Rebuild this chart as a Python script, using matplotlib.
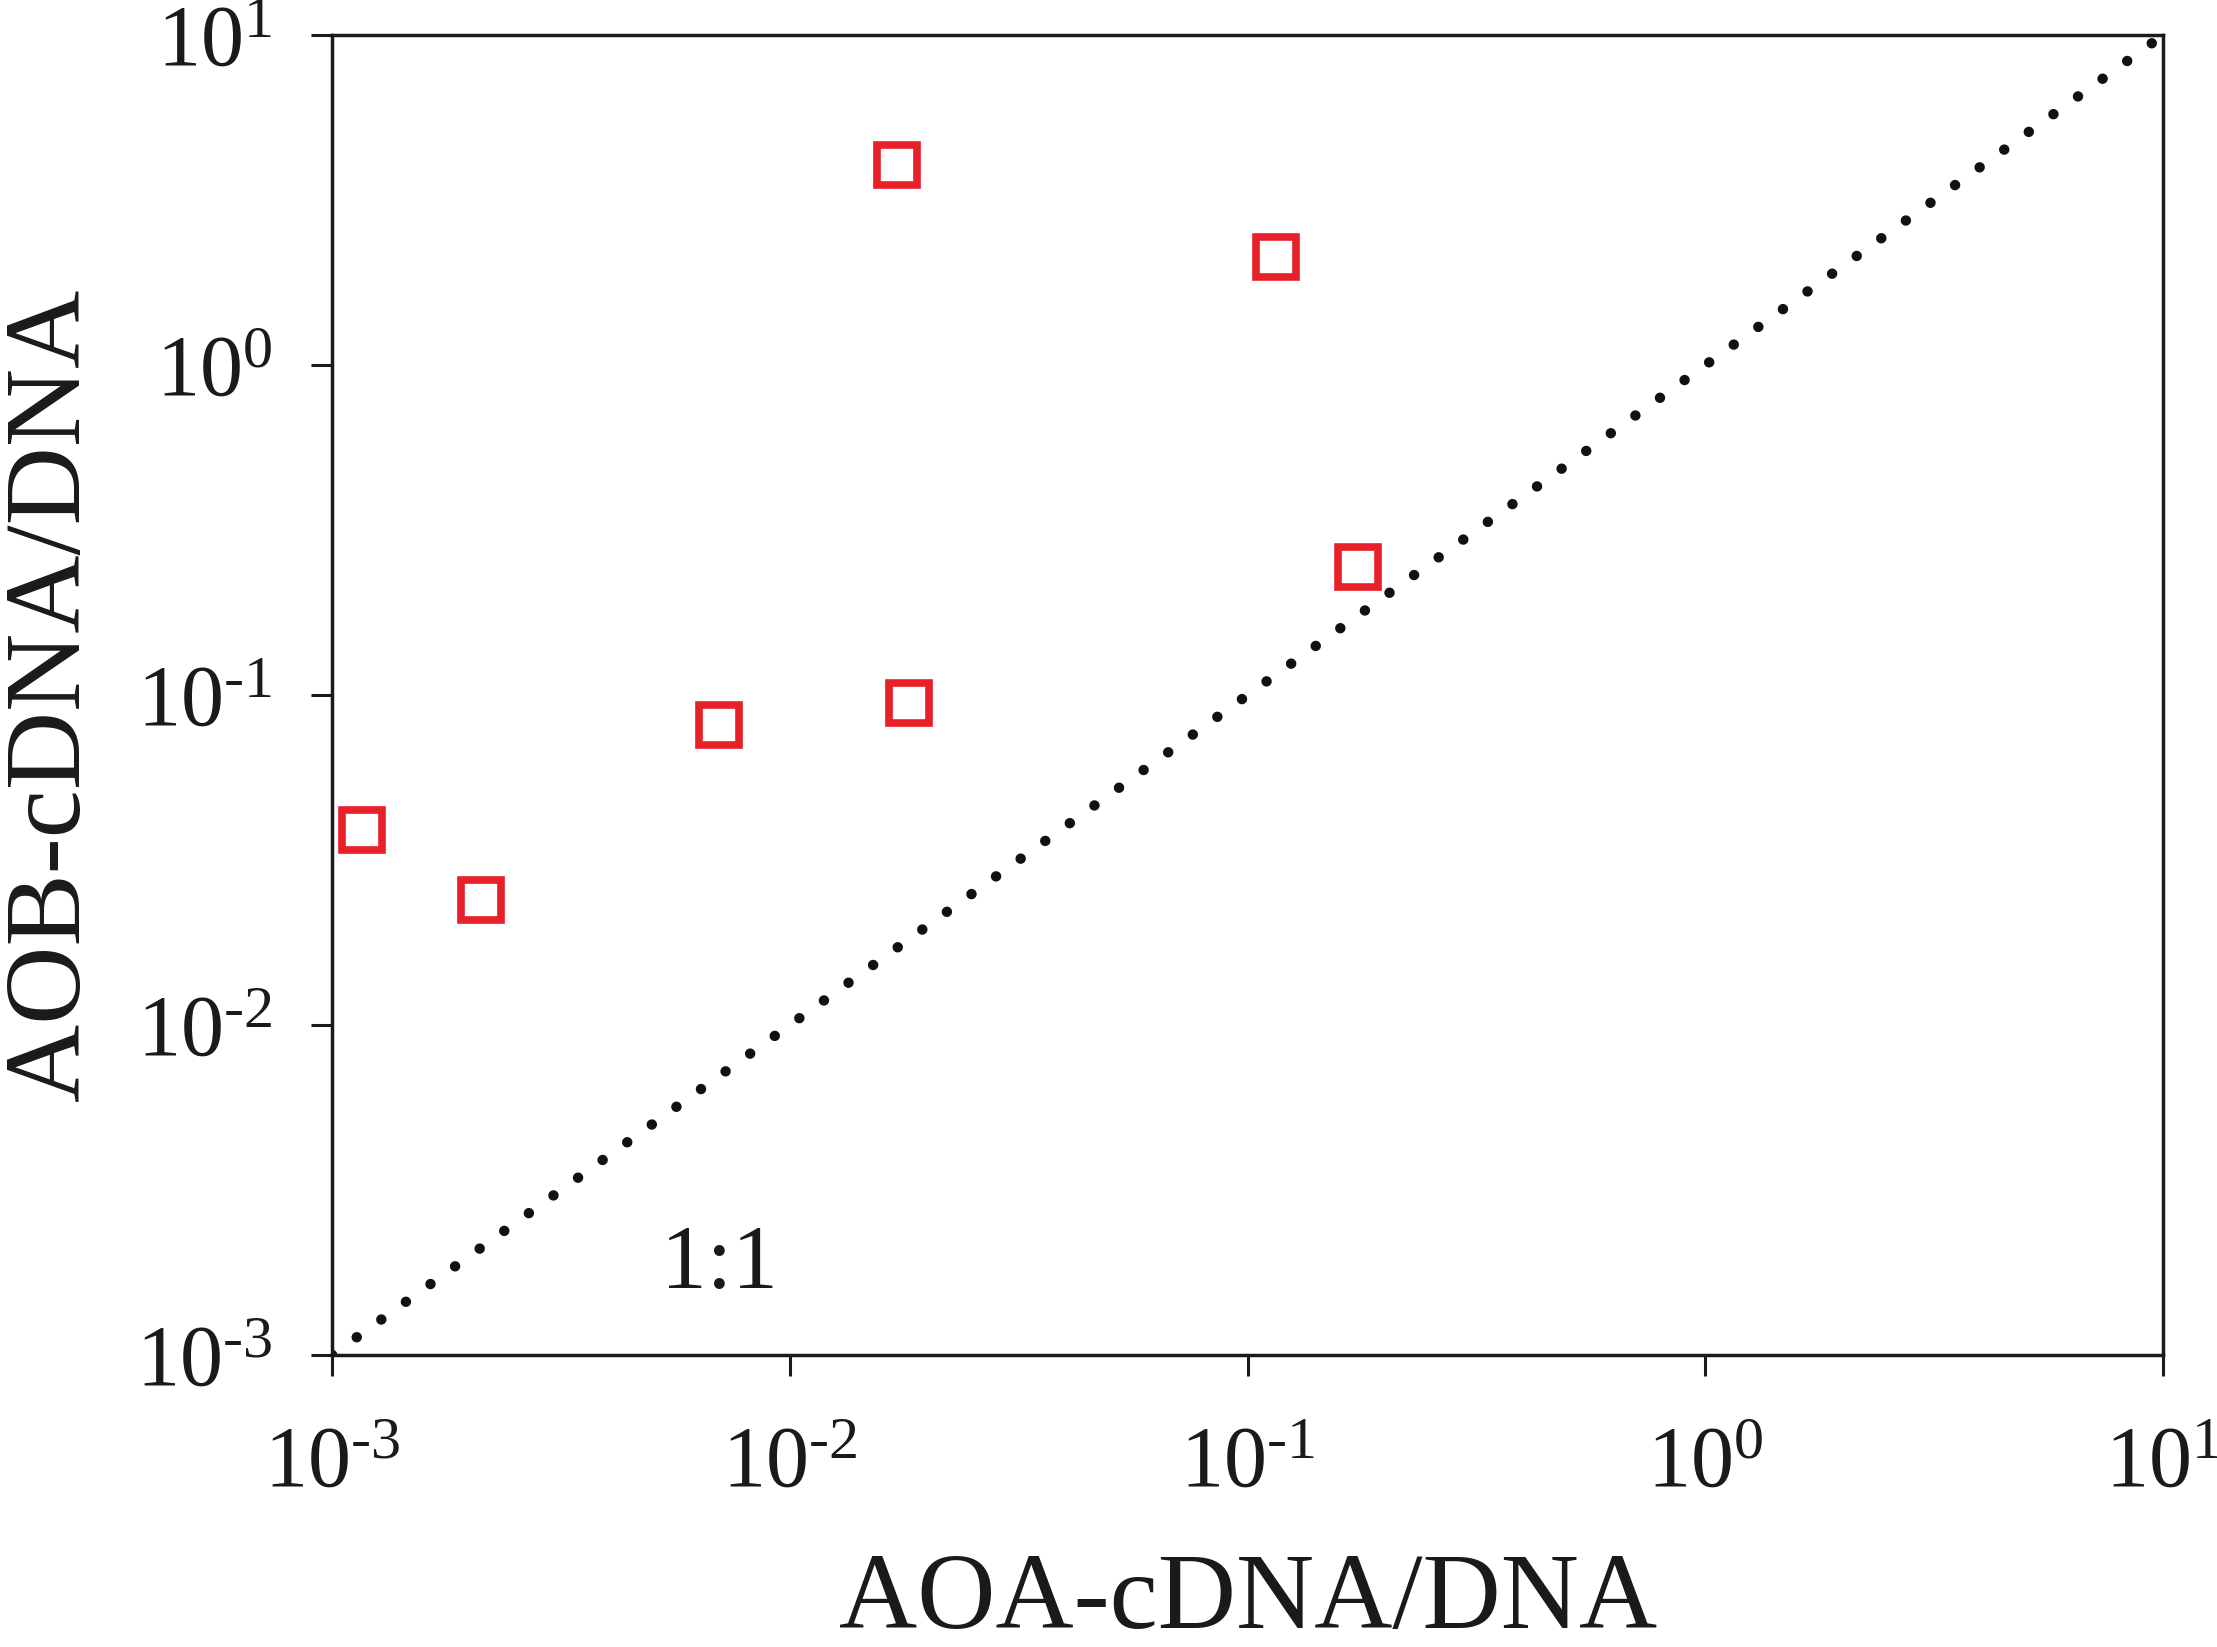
import math
import matplotlib
matplotlib.use("Agg")
import matplotlib.pyplot as plt
from matplotlib.ticker import FixedLocator, FuncFormatter, NullLocator

# valores
aoa = [0.00116, 0.00212, 0.00701, 0.0171, 0.0182, 0.1156, 0.1745]
aob = [0.039, 0.024, 0.081, 4.03, 0.0946, 2.12, 0.244]
decades = [1e-3, 1e-2, 1e-1, 1e0, 1e1]
one_to_one = [1e-3, 1e1]

plt.rcParams['font.family'] = ['Liberation Serif', 'DejaVu Serif']
plt.rcParams['mathtext.fontset'] = 'custom'
plt.rcParams['mathtext.rm'] = 'Liberation Serif'
plt.rcParams['mathtext.it'] = 'Liberation Serif'


def pow10(v, pos):
    e = int(round(math.log10(v)))
    if e < 0:
        return r'$\mathregular{10^{\text{-}%d}}$' % (-e)
    return r'$\mathregular{10^{%d}}$' % e


fig = plt.figure(figsize=(22.17, 16.47), dpi=100)
ax = fig.add_axes([0.1498, 0.1773, 0.8259, 0.8014])

ax.plot(one_to_one, one_to_one, color='#111111', linewidth=7.5,
        linestyle=(0, (0.01, 2.9)), dash_capstyle='round')
ax.plot(aoa, aob, linestyle='none', marker='s', markersize=29,
        markerfacecolor='none', markeredgecolor='#e8202a', markeredgewidth=5.5)

ax.set_xscale('log')
ax.set_yscale('log')
ax.set_xlim(1e-3, 1e1)
ax.set_ylim(1e-3, 1e1)

for a in (ax.xaxis, ax.yaxis):
    a.set_major_locator(FixedLocator(decades))
    a.set_minor_locator(NullLocator())
    a.set_major_formatter(FuncFormatter(pow10))

ax.tick_params(axis='both', direction='out', length=15, width=2.2,
               labelsize=62, colors='#1a1a1a')
ax.tick_params(axis='x', pad=36)
ax.tick_params(axis='y', pad=28)
for s in ax.spines.values():
    s.set_linewidth(2.5)
    s.set_color('#1a1a1a')

ax.text(0.007, 0.0016, '1:1', fontsize=66, ha='center', va='baseline',
        color='#1a1a1a')

ax.set_xlabel('AOA-cDNA/DNA', fontsize=78, labelpad=34, color='#1a1a1a')
ax.set_ylabel('AOB-cDNA/DNA', fontsize=78, labelpad=24, color='#1a1a1a')

fig.savefig('out.png', dpi=100)
